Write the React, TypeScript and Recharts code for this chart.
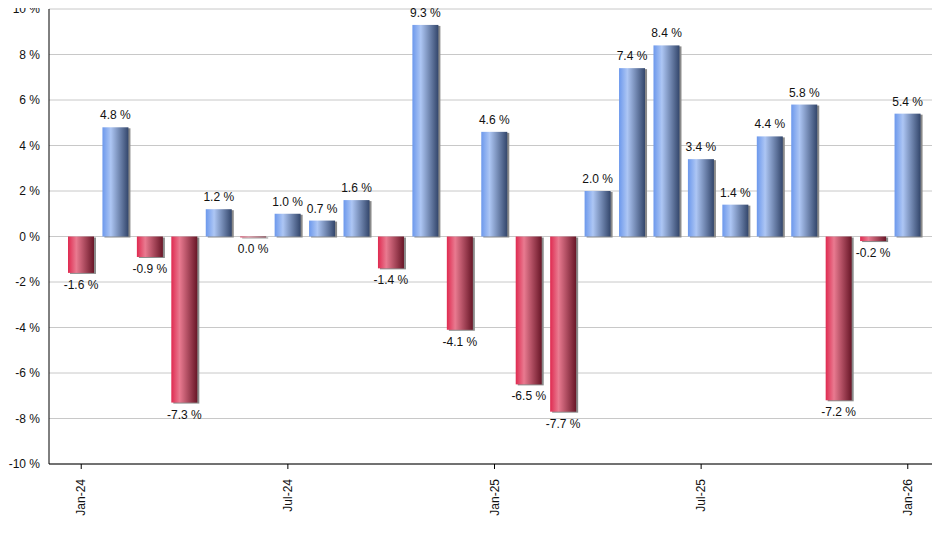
import React from "react";
import { Bar, BarChart, CartesianGrid, Cell, LabelList, XAxis, YAxis } from "recharts";

// month labels, Jan-24 .. Jan-26
const months = [
  "Jan-24", "Feb-24", "Mar-24", "Apr-24", "May-24", "Jun-24", "Jul-24", "Aug-24", "Sep-24",
  "Oct-24", "Nov-24", "Dec-24", "Jan-25", "Feb-25", "Mar-25", "Apr-25", "May-25", "Jun-25",
  "Jul-25", "Aug-25", "Sep-25", "Oct-25", "Nov-25", "Dec-25", "Jan-26"
];

// monthly return in percent
const returns = [
  -1.6, 4.8, -0.9, -7.3, 1.2, -0.04, 1.0, 0.7, 1.6, -1.4, 9.3, -4.1, 4.6,
  -6.5, -7.7, 2.0, 7.4, 8.4, 3.4, 1.4, 4.4, 5.8, -7.2, -0.2, 5.4
];

const yTicks = [-10, -8, -6, -4, -2, 0, 2, 4, 6, 8, 10];

const data = months.map((m, i) => ({ month: m, value: returns[i] }));

const font = "'Liberation Sans', Arial, sans-serif";

const fmt = (v: number) => `${(Math.round(v * 10) / 10).toFixed(1)} %`;

// bar with a small gray drop shadow on the right/bottom
const ShadowBar = (props: any) => {
  const { x, y, width, height, fill } = props;
  if (width == null || height == null) return null;
  const top = Math.min(y, y + height);
  const h = Math.abs(height);
  return (
    <g>
      <rect x={x + 2} y={top + 1} width={width} height={h} fill="#8a8a8a" />
      <rect x={x} y={top} width={width} height={h} fill={fill} />
    </g>
  );
};

const ValueLabel = (props: any) => {
  const { x, y, width, height, value } = props;
  const top = Math.min(y, y + height);
  const bottom = Math.max(y, y + height);
  const neg = value < 0;
  return (
    <text
      x={x + width / 2}
      y={neg ? bottom + 16 : top - 8}
      textAnchor="middle"
      fontSize={12}
      fontFamily={font}
      fill="#111"
    >
      {fmt(value)}
    </text>
  );
};

const XTick = (props: any) => {
  const { x, y, payload } = props;
  return (
    <text
      x={x}
      y={y}
      transform={`rotate(-90 ${x} ${y})`}
      textAnchor="end"
      dx={-8}
      dy={4}
      fontSize={12}
      fontFamily={font}
      fill="#111"
    >
      {payload.value}
    </text>
  );
};

export default function App() {
  return (
    <div style={{ marginLeft: -8, marginTop: -8, width: 940, height: 550, background: "#fff" }}>
      <BarChart width={940} height={550} data={data} margin={{ top: 9, right: 0, left: 0, bottom: 26 }}>
        <defs>
          <linearGradient id="gBlue" x1="0" y1="0" x2="1" y2="0">
            <stop offset="0%" stopColor="#6c98ec" />
            <stop offset="32%" stopColor="#adc6f4" />
            <stop offset="100%" stopColor="#33466b" />
          </linearGradient>
          <linearGradient id="gRed" x1="0" y1="0" x2="1" y2="0">
            <stop offset="0%" stopColor="#df2a50" />
            <stop offset="32%" stopColor="#e97a90" />
            <stop offset="100%" stopColor="#681627" />
          </linearGradient>
        </defs>
        <CartesianGrid vertical={false} stroke="#c8c8c8" />
        <XAxis
          dataKey="month"
          interval={5}
          padding={{ left: 15, right: 15 }}
          height={60}
          stroke="#000"
          tickSize={5}
          tick={<XTick />}
        />
        <YAxis
          domain={[-10, 10]}
          ticks={yTicks}
          width={49}
          stroke="#000"
          tickLine={false}
          tickFormatter={(v: number) => `${v} %`}
          tick={{ fontSize: 12, fontFamily: font, fill: "#111" }}
          tickMargin={3}
        />
        <Bar dataKey="value" barSize={26} shape={<ShadowBar />} isAnimationActive={false}>
          {data.map((d, i) => (
            <Cell key={i} fill={d.value < 0 ? "url(#gRed)" : "url(#gBlue)"} />
          ))}
          <LabelList dataKey="value" content={<ValueLabel />} />
        </Bar>
      </BarChart>
    </div>
  );
}
